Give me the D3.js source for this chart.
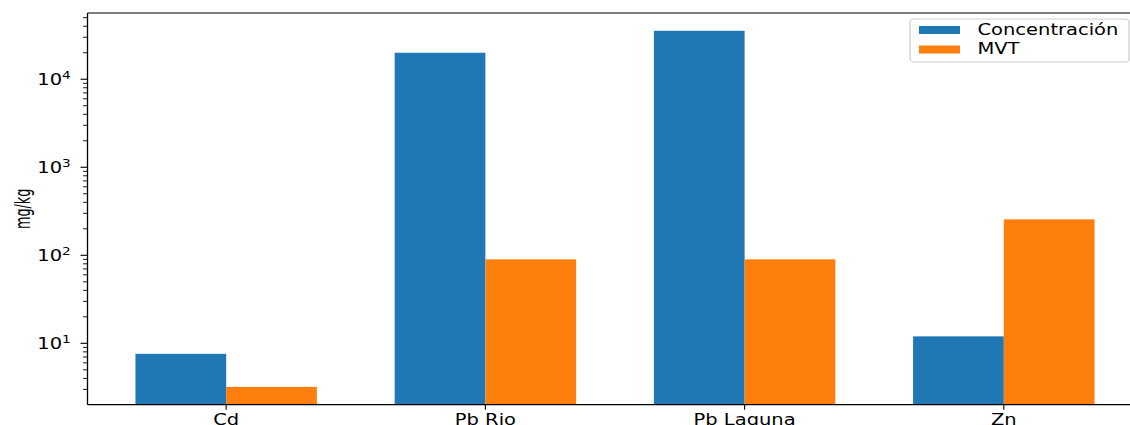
<!DOCTYPE html>
<html>
<head>
<meta charset="utf-8">
<script src="https://cdn.jsdelivr.net/npm/d3@7"></script>
<style>
html,body{margin:0;padding:0;background:#fff;overflow:hidden;}
svg{display:block;}
text{font-family:"DejaVu Sans",sans-serif;fill:#000;}
</style>
</head>
<body>
<svg id="chart"></svg>
<script>
// ---- data ----
const categories = ["Cd", "Pb Rio", "Pb Laguna", "Zn"];
const concentracion = [7.6, 20000, 35500, 12];
const mvt = [3.2, 90, 90, 256];
const seriesNames = ["Concentración", "MVT"];
const yTickValues = [10, 100, 1000, 10000];
const yTickExponents = ["1", "2", "3", "4"];

// ---- layout (figure was stretched horizontally) ----
const W = 1130, H = 425, S = 1.3;
const VW = W / S;
const colors = ["#1f77b4", "#ff7f0e"];
const svg = d3.select("#chart")
  .attr("width", W).attr("height", H)
  .attr("viewBox", `0 0 ${VW} ${H}`)
  .attr("preserveAspectRatio", "none");

const pLeft = 87.5 / S, pRight = 1142.5 / S, pTop = 13, pBottom = 404.7;
const barW = 0.35;
const nMax = categories.length - 1;
const xm = 0.05 * (nMax + 2 * barW);

const x = d3.scaleLinear()
  .domain([-barW - xm, nMax + barW + xm])
  .range([pLeft, pRight]);

const allVals = concentracion.concat(mvt);
const lmin = Math.log10(d3.min(allVals)), lmax = Math.log10(d3.max(allVals));
const span = lmax - lmin;
const y = d3.scaleLog()
  .domain([Math.pow(10, lmin - 0.05 * span), Math.pow(10, lmax + 0.05 * span)])
  .range([pBottom, pTop]);

const g = svg.append("g");

// bars
const series = [concentracion, mvt];
series.forEach((vals, si) => {
  g.selectAll(null).data(vals).enter().append("rect")
    .attr("x", (d, i) => x(i + (si === 0 ? -barW : 0)))
    .attr("width", (d, i) => x(i + barW) - x(i))
    .attr("y", d => y(d))
    .attr("height", d => pBottom - y(d))
    .attr("fill", colors[si]);
});

// y minor ticks
const [d0, d1] = y.domain();
const minor = [];
for (let e = Math.floor(Math.log10(d0)); e <= Math.ceil(Math.log10(d1)); e++) {
  for (let k = 2; k <= 9; k++) {
    const v = k * Math.pow(10, e);
    if (v >= d0 && v <= d1) minor.push(v);
  }
}
const majLen = 7 / S, minLen = 4.5 / S;
g.selectAll(null).data(minor).enter().append("line")
  .attr("x1", pLeft - minLen).attr("x2", pLeft)
  .attr("y1", d => y(d)).attr("y2", d => y(d))
  .attr("stroke", "#000").attr("stroke-width", 0.9);
g.selectAll(null).data(yTickValues).enter().append("line")
  .attr("x1", pLeft - majLen).attr("x2", pLeft)
  .attr("y1", d => y(d)).attr("y2", d => y(d))
  .attr("stroke", "#000").attr("stroke-width", 1.1);

// y tick labels
yTickValues.forEach((v, i) => {
  const t = g.append("text")
    .attr("x", pLeft - majLen - 7.5)
    .attr("y", y(v) + 5.5)
    .attr("text-anchor", "end")
    .attr("font-size", 15);
  t.append("tspan").text("10");
  t.append("tspan").attr("font-size", 10.5).attr("dy", -5.5).text(yTickExponents[i]);
});

// x ticks & labels
categories.forEach((c, i) => {
  g.append("line")
    .attr("x1", x(i)).attr("x2", x(i))
    .attr("y1", pBottom).attr("y2", pBottom + 5)
    .attr("stroke", "#000").attr("stroke-width", 1.1 / S);
  g.append("text")
    .attr("x", x(i)).attr("y", 425)
    .attr("text-anchor", "middle")
    .attr("font-size", 15)
    .text(c);
});

// spines
g.append("line").attr("x1", pLeft).attr("x2", pLeft).attr("y1", pTop).attr("y2", pBottom)
  .attr("stroke", "#000").attr("stroke-width", 1.3 / S);
g.append("line").attr("x1", pLeft).attr("x2", pRight).attr("y1", pBottom).attr("y2", pBottom)
  .attr("stroke", "#000").attr("stroke-width", 1.2);
g.append("line").attr("x1", pLeft).attr("x2", pRight).attr("y1", pTop).attr("y2", pTop)
  .attr("stroke", "#000").attr("stroke-width", 1.2);

// y label
g.append("text")
  .attr("transform", `translate(${22.5 / S},${(pTop + pBottom) / 2}) rotate(-90) scale(0.8,1)`)
  .attr("text-anchor", "middle")
  .attr("dominant-baseline", "central")
  .attr("font-size", 16)
  .text("mg/kg");

// legend
const lg = g.append("g");
lg.append("rect")
  .attr("x", 910 / S).attr("y", 19)
  .attr("width", (1129 - 910) / S).attr("height", 43)
  .attr("rx", 3).attr("ry", 3)
  .attr("fill", "#fff").attr("fill-opacity", 0.8)
  .attr("stroke", "#d0d0d0").attr("stroke-width", 1);
seriesNames.forEach((n, i) => {
  lg.append("rect")
    .attr("x", 919 / S).attr("y", 26 + i * 19.5)
    .attr("width", 41 / S).attr("height", 8)
    .attr("fill", colors[i]);
  lg.append("text")
    .attr("x", 977.5 / S).attr("y", 35 + i * 19.5)
    .attr("font-size", 15)
    .text(n);
});
</script>
</body>
</html>
